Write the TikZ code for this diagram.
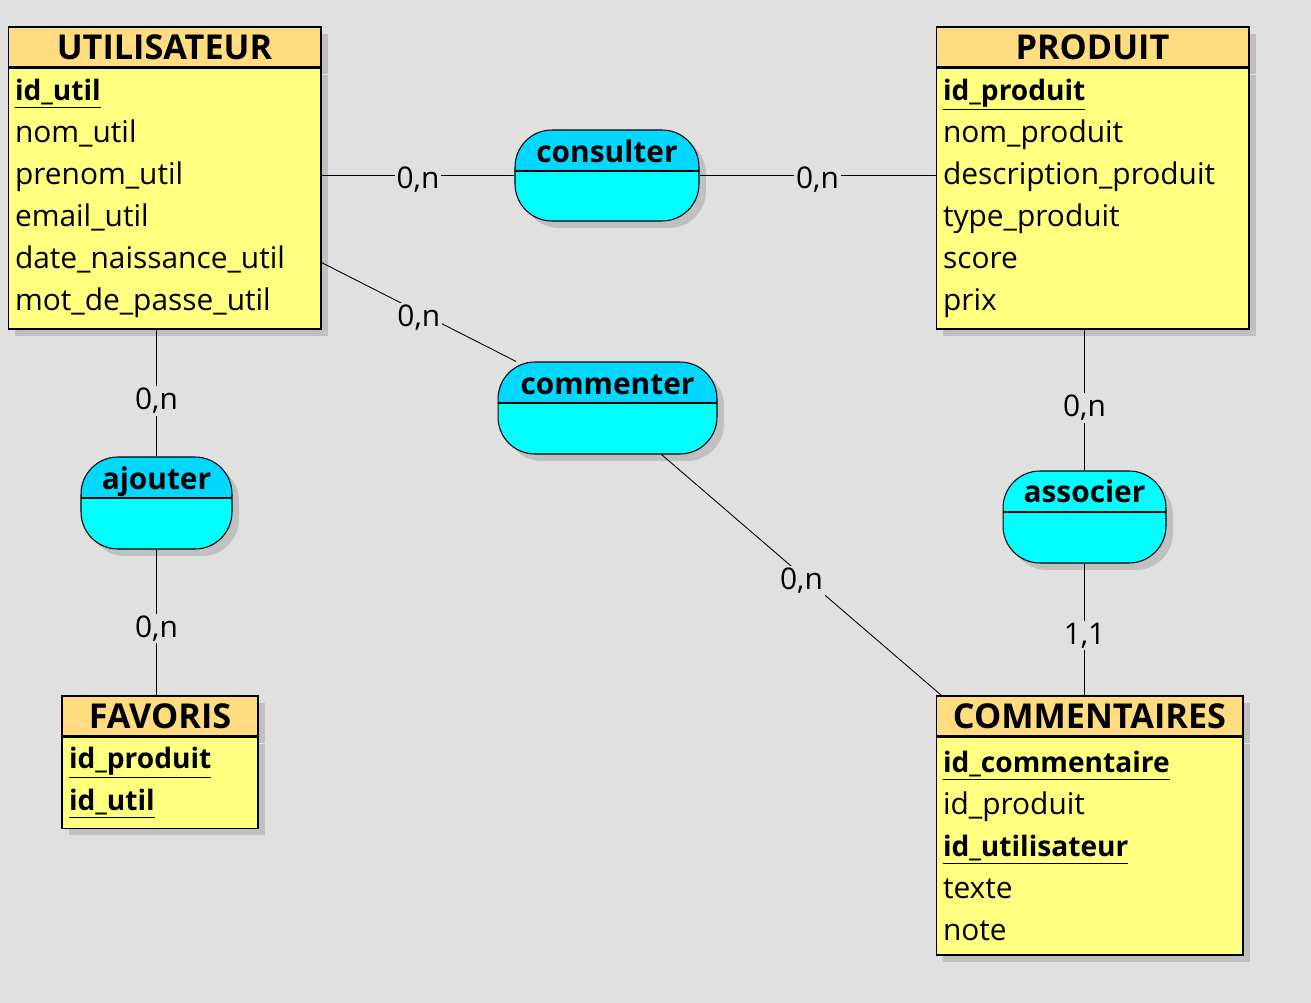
\documentclass[tikz,border=0pt]{standalone}
\usepackage{fontspec}
\setmainfont{Open Sans}
\usetikzlibrary{positioning,shadows,calc}

\definecolor{fondC}{HTML}{E0E0E0}
\definecolor{enteteC}{HTML}{FFDC80}
\definecolor{corpsC}{HTML}{FFFF80}
\definecolor{assocC}{HTML}{00FFFF}
\definecolor{assocTete}{HTML}{00D8FF}
\definecolor{ombreC}{HTML}{C0C0C0}

\newcommand{\pk}[1]{\underline{\fontsize{16}{23.9}\selectfont\bfseries #1}}

\tikzset{
    ombre/.style={drop shadow={shadow xshift=0.14cm, shadow yshift=-0.14cm, fill=ombreC, opacity=1}},
    entete/.style={draw, line width=0.6pt, fill=enteteC, ombre, minimum height=0.8cm, inner sep=0pt,
        font=\fontsize{19.5}{20}\selectfont\bfseries},
    corps/.style={draw, line width=0.6pt, fill=corpsC, ombre, inner xsep=0.14cm, inner ysep=0pt,
        align=left, font=\fontsize{17}{23.9}\selectfont},
    assoc/.style={draw, line width=0.6pt, fill=assocC, ombre, rounded corners=0.74cm, inner sep=0pt,
        path picture={
            \fill[#1, sharp corners] (path picture bounding box.north west) rectangle ([yshift=-0.82cm]path picture bounding box.north east);
            \draw[line width=0.6pt, sharp corners] ([yshift=-0.82cm]path picture bounding box.north west) -- ([yshift=-0.82cm]path picture bounding box.north east);
        }},
    assoc/.default=assocTete,
    titre/.style={anchor=base, inner sep=0pt, font=\fontsize{17}{20}\selectfont\bfseries},
    card/.style={fill=fondC, inner sep=1pt, yshift=-0.12cm, font=\fontsize{17}{20}\selectfont},
    lien/.style={line width=0.5pt}
}

\begin{document}
\begin{tikzpicture}[x=0.02cm, y=-0.02cm]
    \fill[fondC] (0,0) rectangle (1311,1003);
    \useasboundingbox (0,0) rectangle (1311,1003);

    %%%%%%%%%% Entites %%%%%%%%%%
    \node[entete, minimum width=6.26cm] (utilH) at (164.5,47) {UTILISATEUR};
    \node[corps, text width=5.98cm, minimum height=5.22cm, below=0pt of utilH] (utilB)
        {\pk{id\_util}\\nom\_util\\prenom\_util\\email\_util\\date\_naissance\_util\\mot\_de\_passe\_util};

    \node[entete, minimum width=6.26cm] (prodH) at (1092.5,47) {PRODUIT};
    \node[corps, text width=5.98cm, minimum height=5.22cm, below=0pt of prodH] (prodB)
        {\pk{id\_produit}\\nom\_produit\\description\_produit\\type\_produit\\score\\prix};

    \node[entete, minimum width=3.92cm] (favH) at (160,716) {FAVORIS};
    \node[corps, text width=3.64cm, minimum height=1.82cm, below=0pt of favH] (favB)
        {\pk{id\_produit}\\\pk{id\_util}};

    \node[entete, minimum width=6.14cm] (commH) at (1089.5,716) {COMMENTAIRES};
    \node[corps, text width=5.86cm, minimum height=4.36cm, below=0pt of commH] (commB)
        {\pk{id\_commentaire}\\id\_produit\\\pk{id\_utilisateur}\\texte\\note};

    %%%%%%%%%% Associations %%%%%%%%%%
    \node[assoc, minimum width=3.68cm, minimum height=1.82cm] (consulter) at (607,175.5) {};
    \node[titre] (consulterT) at ([yshift=-0.66cm]consulter.north) {consulter};

    \node[assoc, minimum width=4.38cm, minimum height=1.84cm] (commenter) at (607.5,408) {};
    \node[titre] (commenterT) at ([yshift=-0.66cm]commenter.north) {commenter};

    \node[assoc, minimum width=3.02cm, minimum height=1.84cm] (ajouter) at (156.5,503) {};
    \node[titre] (ajouterT) at ([yshift=-0.66cm]ajouter.north) {ajouter};

    \node[assoc=assocC, minimum width=3.26cm, minimum height=1.84cm] (associer) at (1084.5,517) {};
    \node[titre] (associerT) at ([yshift=-0.64cm]associer.north) {associer};

    %%%%%%%%%% Liens %%%%%%%%%%
    \draw[lien] (consulter.west -| utilB.east) -- node[card, yshift=0.04cm] {0,n} (consulter.west);
    \draw[lien] (consulter.east) -- node[card, yshift=0.04cm] {0,n} (consulter.east -| prodB.west);
    \draw[lien] ($(utilB.north east)+(0,195)$) -- node[card] {0,n} (commenter);
    \draw[lien] (commenter) -- node[card] {0,n} ([xshift=0.12cm]commH.north west);
    \draw[lien] (ajouter.north |- utilB.south) -- node[card, yshift=-0.04cm] {0,n} (ajouter.north);
    \draw[lien] (ajouter.south) -- node[card] {0,n} (ajouter.south |- favH.north);
    \draw[lien] (associer.north |- prodB.south) -- node[card, yshift=-0.04cm] {0,n} (associer.north);
    \draw[lien] (associer.south) -- node[card] {1,1} (associer.south |- commH.north);
\end{tikzpicture}
\end{document}
